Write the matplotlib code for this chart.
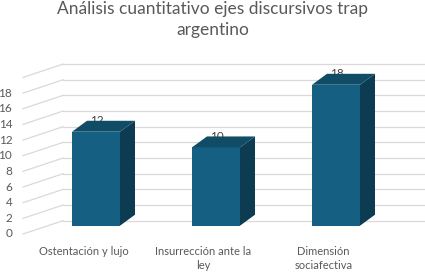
import matplotlib
matplotlib.use("Agg")
import matplotlib.pyplot as plt
from matplotlib.patches import Polygon

# data
categories = ["Ostentación y lujo", "Insurrección ante la\nley", "Dimensión\nsociafectiva"]
values = [12, 10, 18]
tick_values = [0, 2, 4, 6, 8, 10, 12, 14, 16, 18]
grid_values = [0, 2, 4, 6, 8, 10, 12, 14, 16, 18, 20]
title = "Análisis cuantitativo ejes discursivos trap\nargentino"

plt.rcParams['font.family'] = ['Lato', 'DejaVu Sans']

fig = plt.figure(figsize=(4.25, 2.73), dpi=100)
ax = fig.add_axes([0, 0, 1, 1])
# one axes over the whole figure, category units across, value units up
ax.set_xlim(-0.8, (425 - 96) / 120)
ax.set_ylim((225.7 - 273) / 7.83, 225.7 / 7.83)
ax.axis('off')

grid_col = '#d9d9d9'
text_col = '#595959'

# fake 3d: front edge of floor and back wall
x_front, x_back = -0.608, -0.275
front_shift, back_shift = -1.06, 0.64
x_right = ax.get_xlim()[1]
for v in grid_values:
    ax.plot([x_front, x_back], [v + front_shift, v + back_shift], color=grid_col, lw=0.9, zorder=1)
    ax.plot([x_back, x_right], [v + back_shift, v + back_shift], color=grid_col, lw=0.9, zorder=1)
for v in tick_values:
    ax.text(x_front - 0.09, v + front_shift, str(v), ha='right', va='center',
            fontsize=8.5, color=text_col)

# bars
w = 0.2
ddx, ddy = 0.125, 1.4
front_col, side_col, top_col = '#156082', '#0d3b51', '#114c67'
for i, v in enumerate(values):
    ax.add_patch(Polygon([(i - w, 0), (i + w, 0), (i + w, v), (i - w, v)],
                         closed=True, fc=front_col, ec='none', zorder=3))
    ax.add_patch(Polygon([(i + w, 0), (i + w + ddx, ddy), (i + w + ddx, v + ddy), (i + w, v)],
                         closed=True, fc=side_col, ec='none', zorder=3))
    ax.add_patch(Polygon([(i - w, v), (i + w, v), (i + w + ddx, v + ddy), (i - w + ddx, v + ddy)],
                         closed=True, fc=top_col, ec='none', zorder=3))
    ax.text(i + 0.01, v + 1.45, str(v), ha='center', va='center', fontsize=8.5,
            color='#404040', zorder=2)

for i, c in enumerate(categories):
    ax.text(i - 0.105, -2.55, c, ha='center', va='top', fontsize=8, color=text_col,
            linespacing=1.4)

fig.text(0.5, 0.995, title, ha='center', va='top', fontsize=12.5, color=text_col,
         linespacing=1.35)

fig.savefig('out.png', dpi=100)
